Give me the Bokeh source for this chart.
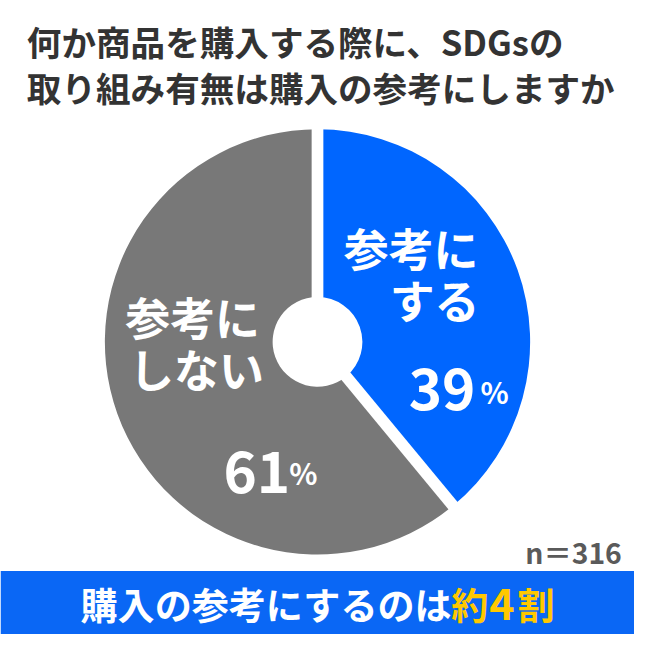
import math
from bokeh.plotting import figure
from bokeh.models import Range1d, ColumnDataSource
from bokeh.core.properties import value
from bokeh.embed import file_html
from bokeh.resources import INLINE

# ---- data ----
title_lines = ["何か商品を購入する際に、SDGsの", "取り組み有無は購入の参考にしますか"]
categories = ["参考にする", "参考にしない"]
shares = [39, 61]
label_lines_yes = ["参考に", "する"]
label_lines_no = ["参考に", "しない"]
pct_labels = ["39", "61"]
pct_sign = "%"
sample_note = "n＝316"
summary_main = "購入の参考にするのは"
summary_highlight = ["約", "4", "割"]

# ---- layout ----
W = 634
S = W / 650.0


def px(v):
    return f"{v * S:.1f}px"


def Y(py):
    return 650 - py


FONT = value("Noto Sans CJK JP")
BLUE = "#0066FF"
GREY = "#787878"

p = figure(width=W, height=W, x_range=Range1d(0, 650), y_range=Range1d(0, 650),
           output_backend="svg", toolbar_location=None, min_border=0)
p.axis.visible = False
p.grid.visible = False
p.outline_line_color = None
p.background_fill_color = "white"
p.border_fill_color = "white"

# donut
cx, cy = 325, Y(350)
R, r_in = 218, 46
total = float(sum(shares))
starts, ends = [], []
ang = math.pi / 2
for s in shares:
    starts.append(ang)
    ang = ang - s / total * 2 * math.pi
    ends.append(ang)

src = ColumnDataSource(dict(cat=categories, share=shares, start=starts, end=ends,
                            fill=[BLUE, GREY]))
p.annular_wedge(x=cx, y=cy, inner_radius=r_in, outer_radius=R,
                start_angle="start", end_angle="end", direction="clock",
                fill_color="fill", line_color=None, source=src)
p.ray(x=cx, y=cy, length=R + 6, angle=starts, line_color="white",
      line_width=12 * S)

# bottom band
p.quad(left=0, right=650, bottom=0, top=Y(585), fill_color="#0A67F5", line_color=None)

# title
p.text(x=[27, 27], y=[Y(42), Y(89)], text=title_lines, text_font=FONT,
       text_font_style="bold", text_font_size=px(35.5), text_color="#333333",
       text_baseline="middle", text_align="left")

# slice labels
p.text(x=[421, 445], y=[Y(253), Y(307)], text=label_lines_yes, text_font=FONT,
       text_font_style="bold", text_font_size=px(46), text_color="white",
       text_baseline="middle", text_align="center")
p.text(x=[197, 201], y=[Y(324), Y(377)], text=label_lines_no, text_font=FONT,
       text_font_style="bold", text_font_size=px(46), text_color="white",
       text_baseline="middle", text_align="center")

p.text(x=[487, 297], y=[Y(398), Y(483)], text=pct_labels, text_font=FONT,
       text_font_style="bold", text_font_size=px(58), text_color="white",
       text_baseline="alphabetic", text_align="right")
p.text(x=[492, 296], y=[Y(400), Y(483)], text=[pct_sign, pct_sign], text_font=FONT,
       text_font_style="bold", text_font_size=px(30), text_color="white",
       text_baseline="alphabetic", text_align="left")

# sample size
p.text(x=[637], y=[Y(565)], text=[sample_note], text_font=FONT,
       text_font_style="bold", text_font_size=px(29), text_color="#5A5A5A",
       text_baseline="alphabetic", text_align="right")

# summary band text
F = 38
x0 = 82
yb = Y(619)
p.text(x=[x0], y=[yb], text=[summary_main], text_font=FONT,
       text_font_style="bold", text_font_size=px(F), text_color="white",
       text_baseline="middle", text_align="left")
xh = x0 + len(summary_main) * F
p.text(x=[xh, xh + F + 1, xh + F + 30], y=[yb, yb, yb], text=summary_highlight,
       text_font=FONT, text_font_style="bold",
       text_font_size=[px(F), px(44), px(F)], text_color="#FFC800",
       text_baseline="middle", text_align="left")

open("out.html", "w").write(file_html(p, INLINE))
